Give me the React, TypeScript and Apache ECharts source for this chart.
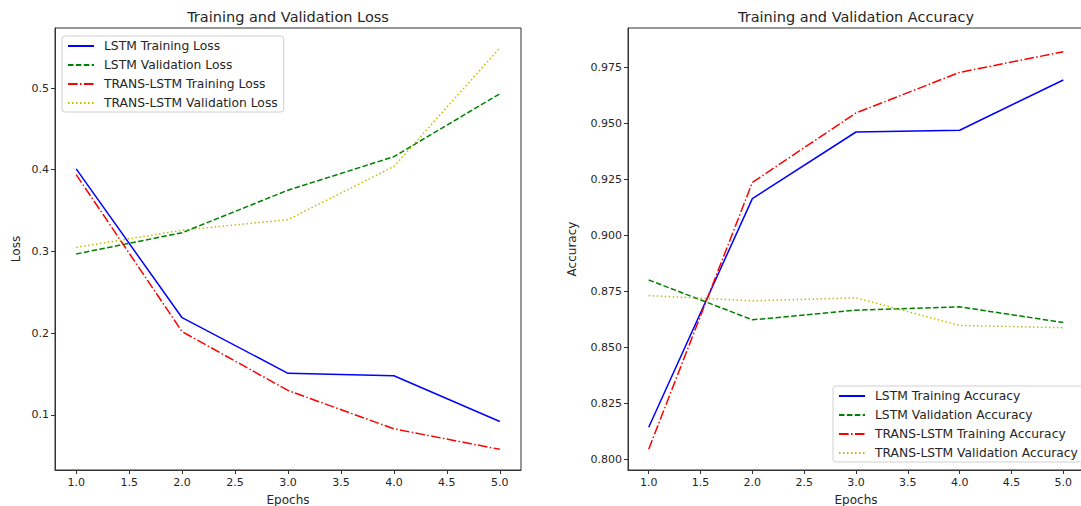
import React, { useEffect, useRef } from "react";
import * as echarts from "echarts";

const epochs = [1, 2, 3, 4, 5];
const xTicks = [1.0, 1.5, 2.0, 2.5, 3.0, 3.5, 4.0, 4.5, 5.0];
const lossTicks = [0.1, 0.2, 0.3, 0.4, 0.5];
const accTicks = [0.8, 0.825, 0.85, 0.875, 0.9, 0.925, 0.95, 0.975];

const lstmTrainLoss = [0.401, 0.219, 0.151, 0.148, 0.092];
const lstmValLoss = [0.297, 0.323, 0.375, 0.416, 0.493];
const transTrainLoss = [0.394, 0.202, 0.13, 0.083, 0.058];
const transValLoss = [0.305, 0.326, 0.339, 0.404, 0.549];

const lstmTrainAcc = [0.8143, 0.9163, 0.946, 0.9468, 0.9692];
const lstmValAcc = [0.88, 0.8622, 0.8665, 0.868, 0.861];
const transTrainAcc = [0.8045, 0.9235, 0.9545, 0.9726, 0.9818];
const transValAcc = [0.873, 0.8707, 0.872, 0.8597, 0.8587];

const lossNames = [
  "LSTM Training Loss",
  "LSTM Validation Loss",
  "TRANS-LSTM Training Loss",
  "TRANS-LSTM Validation Loss",
];
const accNames = [
  "LSTM Training Accuracy",
  "LSTM Validation Accuracy",
  "TRANS-LSTM Training Accuracy",
  "TRANS-LSTM Validation Accuracy",
];

const FONT = "DejaVu Sans";
const TXT = "#262626";

const styles = [
  { color: "#0000ff", type: "solid" as any },
  { color: "#008000", type: [5.5, 2.4] as any },
  { color: "#ff0000", type: [9.6, 2.4, 1.5, 2.4] as any },
  { color: "#bfbf00", type: [1.5, 2.5] as any },
];

function zip(vals: number[]) {
  return epochs.map((e, i) => [e, vals[i]]);
}

export default function App() {
  const ref = useRef<HTMLDivElement>(null);
  useEffect(() => {
    const chart = echarts.init(ref.current!, null, { renderer: "svg" });

    const xAxisBase = (gridIndex: number) => ({
      type: "value",
      gridIndex,
      min: 0.8,
      max: 5.2,
      name: "Epochs",
      nameLocation: "middle",
      nameGap: 24,
      nameTextStyle: { fontFamily: FONT, fontSize: 12, color: TXT },
      splitLine: { show: false },
      axisLine: { show: true, onZero: false, lineStyle: { color: "#333", width: 1 } },
      axisTick: {
        show: true,
        length: 4,
        customValues: xTicks,
        lineStyle: { color: "#333" },
      },
      axisLabel: {
        customValues: xTicks,
        formatter: (v: number) => v.toFixed(1),
        fontFamily: FONT,
        fontSize: 11,
        color: TXT,
        margin: 7,
      },
    });

    const yAxisBase = (
      gridIndex: number,
      min: number,
      max: number,
      ticks: number[],
      dec: number,
      name: string,
      gap: number
    ) => ({
      type: "value",
      gridIndex,
      min,
      max,
      name,
      nameLocation: "middle",
      nameGap: gap,
      nameTextStyle: { fontFamily: FONT, fontSize: 12, color: TXT },
      splitLine: { show: false },
      axisLine: { show: true, onZero: false, lineStyle: { color: "#333", width: 1 } },
      axisTick: {
        show: true,
        length: 4,
        customValues: ticks,
        lineStyle: { color: "#333" },
      },
      axisLabel: {
        customValues: ticks,
        formatter: (v: number) => v.toFixed(dec),
        fontFamily: FONT,
        fontSize: 11,
        color: TXT,
        margin: 6,
      },
    });

    const mkSeries = (names: string[], vals: number[][], idx: number) =>
      names.map((n, i) => ({
        type: "line",
        name: n,
        xAxisIndex: idx,
        yAxisIndex: idx,
        data: zip(vals[i]),
        symbol: "none",
        showSymbol: false,
        lineStyle: { color: styles[i].color, type: styles[i].type, width: 1.5 },
        itemStyle: { color: styles[i].color },
        color: styles[i].color,
      }));

    const legendBase = {
      orient: "vertical",
      itemWidth: 26,
      itemHeight: 14,
      itemGap: 7,
      padding: [4, 6, 3, 5],
      borderColor: "#d0d0d0",
      borderWidth: 1,
      borderRadius: 3,
      backgroundColor: "rgba(255,255,255,0.8)",
      textStyle: {
        fontFamily: FONT,
        fontSize: 12.3,
        color: TXT,
        padding: [0, 0, 0, 5],
      },
      itemStyle: { opacity: 0 },
    };

    const titleStyle = { fontFamily: FONT, fontSize: 14.5, fontWeight: "normal", color: TXT };

    const gridBase = {
      top: 28,
      height: 442,
      show: true,
      borderColor: "#333",
      borderWidth: 1,
      backgroundColor: "transparent",
      containLabel: false,
      outerBoundsMode: "none",
    };

    chart.setOption({
      animation: false,
      backgroundColor: "#ffffff",
      title: [
        {
          text: "Training and Validation Loss",
          left: 288,
          top: 9,
          padding: 0,
          textAlign: "center",
          textStyle: titleStyle,
        },
        {
          text: "Training and Validation Accuracy",
          left: 856,
          top: 9,
          padding: 0,
          textAlign: "center",
          textStyle: titleStyle,
        },
      ],
      grid: [
        { ...gridBase, left: 55, width: 466 },
        { ...gridBase, left: 628, width: 456 },
      ],
      xAxis: [xAxisBase(0), xAxisBase(1)],
      yAxis: [
        yAxisBase(0, 0.0327, 0.5734, lossTicks, 1, "Loss", 33),
        yAxisBase(1, 0.7952, 0.9924, accTicks, 3, "Accuracy", 50),
      ],
      legend: [
        { ...legendBase, data: lossNames, left: 62, top: 36 },
        { ...legendBase, data: accNames, left: 833, top: 386 },
      ],
      series: [
        ...mkSeries(lossNames, [lstmTrainLoss, lstmValLoss, transTrainLoss, transValLoss], 0),
        ...mkSeries(accNames, [lstmTrainAcc, lstmValAcc, transTrainAcc, transValAcc], 1),
      ],
    });
    return () => chart.dispose();
  }, []);
  return (
    <div
      ref={ref}
      style={{ position: "absolute", left: 0, top: 0, width: 1081, height: 506 }}
    />
  );
}
